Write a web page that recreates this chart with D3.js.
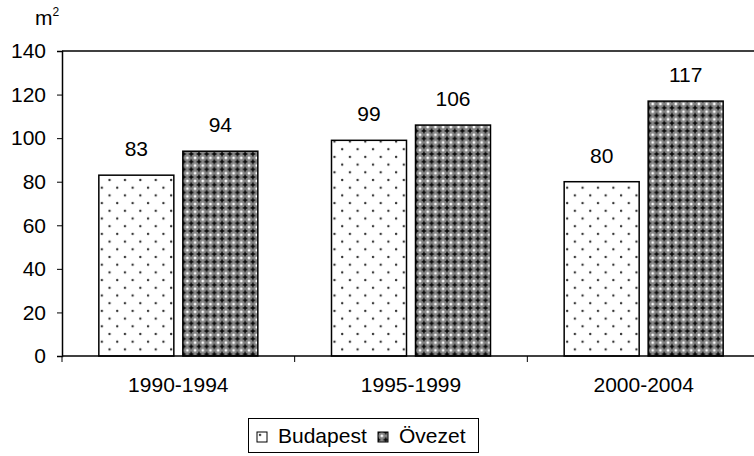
<!DOCTYPE html>
<html>
<head>
<meta charset="utf-8">
<script src="https://cdn.jsdelivr.net/npm/d3@7"></script>
<style>
  body { margin: 0; background: #fff; }
  text { font-family: "Liberation Sans", Arial, sans-serif; fill: #000; }
</style>
</head>
<body>
<div class="chart"></div>
<script>
    /* data */
    const categories = ["1990-1994", "1995-1999", "2000-2004"];
    const series = ["Budapest", "Övezet"];
    const budapest = [83, 99, 80];
    const ovezet = [94, 106, 117];
    const yTicks = [0, 20, 40, 60, 80, 100, 120, 140];

    const values = [budapest, ovezet];

    const W = 754, H = 456;
    const margin = {top: 51, left: 62, bottom: 100};
    const plotRight = 760;
    const plotBottom = H - margin.bottom;
    const fs = "21px";

    const svg = d3.select(".chart").append("svg")
        .attr("width", W)
        .attr("height", H);

    /* fill patterns */
    const defs = svg.append("defs");

    const dots = defs.append("pattern")
        .attr("id", "pat-budapest")
        .attr("patternUnits", "userSpaceOnUse")
        .attr("width", 15.4).attr("height", 15.4);
    dots.append("rect").attr("width", 15.4).attr("height", 15.4).attr("fill", "#fff");
    dots.append("circle").attr("cx", 3).attr("cy", 3).attr("r", 1.2).attr("fill", "#333");
    dots.append("circle").attr("cx", 10.7).attr("cy", 10.7).attr("r", 1.2).attr("fill", "#333");

    const grid = defs.append("pattern")
        .attr("id", "pat-ovezet")
        .attr("patternUnits", "userSpaceOnUse")
        .attr("width", 7.7).attr("height", 7.7);
    grid.append("rect").attr("width", 7.7).attr("height", 7.7).attr("fill", "#858585");
    // black crosses at cell corners
    grid.append("path")
        .attr("d", "M-2.3,0H2.3M0,-2.3V2.3M5.4,0H10M7.7,-2.3V2.3M-2.3,7.7H2.3M0,5.4V10M5.4,7.7H10M7.7,5.4V10")
        .attr("stroke", "#000").attr("stroke-width", 1.4);
    grid.append("path")
        .attr("d", "M3.85,2.1L5.6,3.85L3.85,5.6L2.1,3.85Z")
        .attr("fill", "#fff");

    const fills = ["url(#pat-budapest)", "url(#pat-ovezet)"];

    /* scales */
    const xScale = d3.scaleBand()
        .domain(categories)
        .range([margin.left, plotRight])
        .paddingInner(0).paddingOuter(0);

    const groupW = 159;
    const xInner = d3.scaleBand()
        .domain(series)
        .range([0, groupW])
        .paddingInner(9 / 84).paddingOuter(0);

    const yScale = d3.scaleLinear()
        .domain([0, 140])
        .range([plotBottom, margin.top]);

    /* bars */
    const groups = svg.selectAll(".grp")
        .data(categories)
        .enter().append("g")
        .attr("class", "grp")
        .attr("transform", d => `translate(${xScale(d) + xScale.bandwidth() / 2 - groupW / 2},0)`);

    groups.selectAll("rect")
        .data((d, i) => series.map((s, j) => ({s: s, v: values[j][i], j: j})))
        .enter().append("rect")
        .attr("x", d => xInner(d.s))
        .attr("y", d => yScale(d.v))
        .attr("width", xInner.bandwidth())
        .attr("height", d => plotBottom - yScale(d.v))
        .attr("fill", d => fills[d.j])
        .attr("stroke", "#000")
        .attr("stroke-width", 1.5);

    groups.selectAll(".val")
        .data((d, i) => series.map((s, j) => ({s: s, v: values[j][i]})))
        .enter().append("text")
        .attr("class", "val")
        .attr("x", d => xInner(d.s) + xInner.bandwidth() / 2)
        .attr("y", d => yScale(d.v) - 19)
        .attr("text-anchor", "middle")
        .style("font-size", fs)
        .text(d => d.v);

    /* plot frame (top line) */
    svg.append("line")
        .attr("x1", margin.left).attr("x2", plotRight)
        .attr("y1", margin.top).attr("y2", margin.top)
        .attr("stroke", "#000").attr("stroke-width", 1.5);

    /* axes */
    const yAxis = d3.axisLeft(yScale)
        .tickValues(yTicks)
        .tickSize(5)
        .tickPadding(11)
        .tickFormat(d3.format("d"));

    const gy = svg.append("g")
        .attr("class", "axis-y-axis")
        .attr("transform", `translate(${margin.left},0)`)
        .call(yAxis);
    gy.select(".domain").attr("stroke-width", 1.5);
    gy.selectAll(".tick line").attr("stroke-width", 1);
    gy.selectAll("text").style("font-size", fs).attr("font-family", null);

    const xAxis = d3.axisBottom(xScale)
        .tickSize(0)
        .tickPadding(0);

    const gx = svg.append("g")
        .attr("class", "axis-x-axis")
        .attr("transform", `translate(0,${plotBottom})`)
        .call(xAxis);
    gx.select(".domain").attr("d", `M${margin.left},0H${plotRight}`).attr("stroke-width", 1.5);
    gx.selectAll(".tick text")
        .attr("y", 36).attr("dy", null)
        .style("font-size", fs).attr("font-family", null);

    // ticks at category boundaries
    const bounds = categories.map(c => xScale(c)).concat([plotRight]);
    gx.selectAll(".bound")
        .data(bounds)
        .enter().append("line")
        .attr("class", "bound")
        .attr("x1", d => d).attr("x2", d => d)
        .attr("y1", 0).attr("y2", 6)
        .attr("stroke", "#000").attr("stroke-width", 1);

    /* unit label */
    const unit = svg.append("text")
        .attr("x", 35).attr("y", 25)
        .style("font-size", fs);
    unit.append("tspan").text("m");
    unit.append("tspan").attr("dy", -9).style("font-size", "12px").text("2");

    /* legend */
    const leg = svg.append("g").attr("class", "legend");
    leg.append("rect")
        .attr("x", 248.5).attr("y", 418.5)
        .attr("width", 230).attr("height", 34)
        .attr("fill", "#fff").attr("stroke", "#000").attr("stroke-width", 1);

    const legX = [257, 378];
    const items = leg.selectAll(".item")
        .data(series)
        .enter().append("g")
        .attr("class", "item")
        .attr("transform", (d, i) => `translate(${legX[i]},432)`);
    items.append("rect")
        .attr("width", 10).attr("height", 10)
        .attr("fill", (d, i) => fills[i])
        .attr("stroke", "#000").attr("stroke-width", 1);
    items.append("text")
        .attr("x", 21).attr("y", 11)
        .style("font-size", fs)
        .text(d => d);
</script>
</body>
</html>
